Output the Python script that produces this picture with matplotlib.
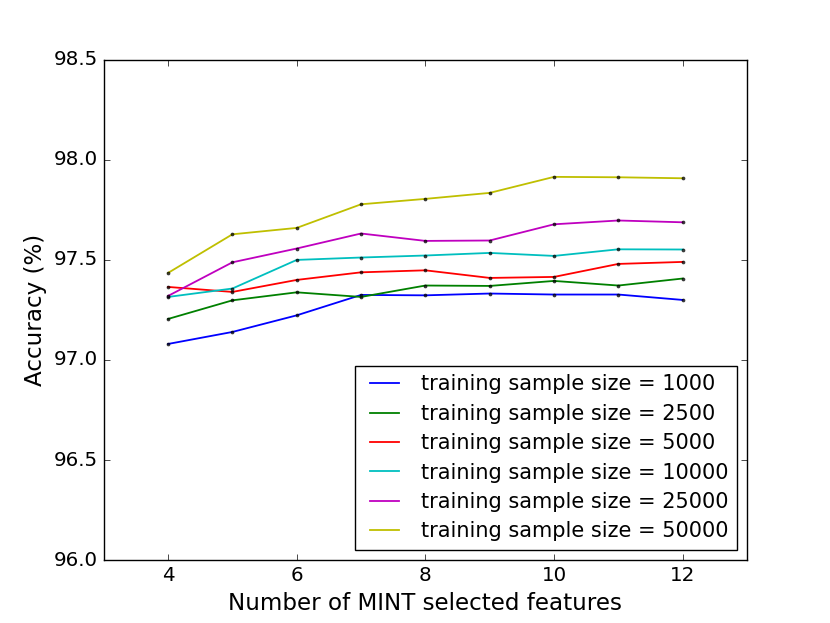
import matplotlib
matplotlib.use("Agg")
import matplotlib.pyplot as plt

plt.style.use('classic')

features = [4, 5, 6, 7, 8, 9, 10, 11, 12]
sizes = [1000, 2500, 5000, 10000, 25000, 50000]
acc_1000 = [97.08, 97.14, 97.223, 97.325, 97.323, 97.332, 97.327, 97.327, 97.30]
acc_2500 = [97.205, 97.298, 97.338, 97.315, 97.372, 97.37, 97.395, 97.372, 97.407]
acc_5000 = [97.365, 97.34, 97.40, 97.438, 97.448, 97.41, 97.415, 97.48, 97.49]
acc_10000 = [97.315, 97.357, 97.50, 97.512, 97.522, 97.535, 97.52, 97.553, 97.552]
acc_25000 = [97.32, 97.488, 97.557, 97.632, 97.595, 97.597, 97.678, 97.697, 97.688]
acc_50000 = [97.435, 97.628, 97.66, 97.778, 97.805, 97.835, 97.915, 97.913, 97.908]
series = [acc_1000, acc_2500, acc_5000, acc_10000, acc_25000, acc_50000]
colors = ['b', 'g', 'r', 'c', 'm', 'y']

fig = plt.figure(figsize=(8.3, 6.23), dpi=100, facecolor='white')
ax = fig.add_axes([0.125, 0.101, 0.775, 0.803])
for s, vals, c in zip(sizes, series, colors):
    ax.plot(features, vals, color=c, lw=1.3, label='training sample size = %d' % s)
    ax.plot(features, vals, ls='none', marker='o', ms=2.2, mfc='k', mec='k', alpha=0.7)

ax.set_xlim(3, 13)
ax.set_ylim(96.0, 98.5)
ax.set_xticks([4, 6, 8, 10, 12])
ax.set_yticks([96.0, 96.5, 97.0, 97.5, 98.0, 98.5])
ax.tick_params(labelsize=14.3)
ax.set_xlabel('Number of MINT selected features', fontsize=16.6)
ax.set_ylabel('Accuracy (%)', fontsize=16.6)
ax.legend(loc='lower right', fontsize=15, numpoints=2, borderaxespad=0.0,
          bbox_to_anchor=(0.985, 0.02), handlelength=2.0, handletextpad=0.75,
          labelspacing=0.45, borderpad=0.42)
fig.savefig('out.png', dpi=100, facecolor='white')
